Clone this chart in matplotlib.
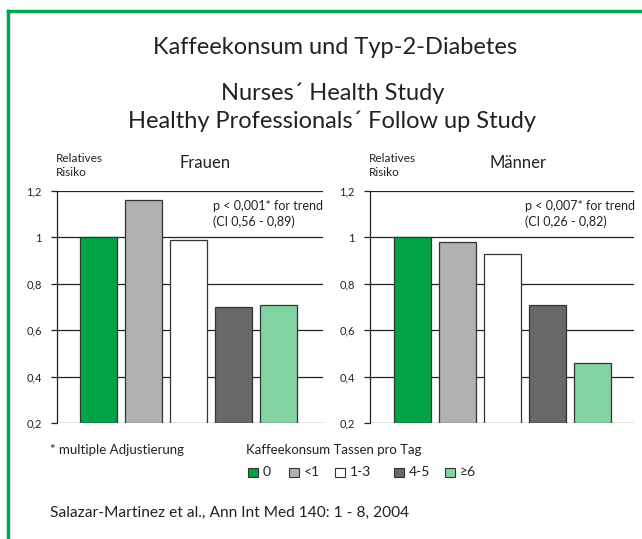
import matplotlib
matplotlib.use("Agg")
import matplotlib.pyplot as plt
from matplotlib.lines import Line2D
from matplotlib.patches import Rectangle

plt.rcParams['font.family'] = ['Lato', 'DejaVu Sans']

categories = ["0", "<1", "1-3", "4-5", "≥6"]
frauen = [1.00, 1.16, 0.99, 0.70, 0.71]
maenner = [1.00, 0.98, 0.93, 0.71, 0.46]
colors = ["#00A346", "#B0B2B0", "#FFFFFF", "#686868", "#82D4A2"]
yticks = [0.2, 0.4, 0.6, 0.8, 1.0, 1.2]
ytick_labels = ["0,2", "0,4", "0,6", "0,8", "1", "1,2"]

W, H = 642, 539
fig = plt.figure(figsize=(W / 100, H / 100), dpi=100)
fig.patch.set_facecolor("white")

def fx(px):
    return px / W

def fy(py):
    return 1 - py / H

TXT = "#222222"

# green frame (left and top only visible)
green = "#00A64F"
fig.add_artist(Line2D([fx(8), fx(8)], [fy(11), fy(545)], color=green, lw=2.5, transform=fig.transFigure))
fig.add_artist(Line2D([fx(8), fx(650)], [fy(11), fy(11)], color=green, lw=2.5, transform=fig.transFigure))

fig.text(fx(335), fy(47), "Kaffeekonsum und Typ-2-Diabetes", ha="center", va="center", fontsize=17, color=TXT)
fig.text(fx(333), fy(93), "Nurses´ Health Study", ha="center", va="center", fontsize=17, color=TXT)
fig.text(fx(332), fy(121), "Healthy Professionals´ Follow up Study", ha="center", va="center", fontsize=17, color=TXT)

def panel(left_px, right_px, xlo, xhi, vals, title, name, ptxt, citxt, ptx):
    ax = fig.add_axes([fx(left_px), fy(423), (right_px - left_px) / W, (423 - 191) / H])
    x = list(range(len(vals)))
    ax.bar(x, [v - 0.2 for v in vals], bottom=0.2, width=0.82, color=colors,
           edgecolor="#333333", linewidth=0.9, zorder=3)
    ax.set_ylim(0.2, 1.2)
    ax.set_xlim(xlo, xhi)
    ax.set_yticks(yticks)
    ax.set_yticklabels(ytick_labels, fontsize=8, color=TXT)
    ax.yaxis.grid(True, color=TXT, linewidth=0.9, zorder=0)
    ax.set_axisbelow(True)
    for s in ["top", "right", "bottom"]:
        ax.spines[s].set_visible(False)
    ax.spines["left"].set_color(TXT)
    ax.spines["left"].set_linewidth(0.9)
    ax.tick_params(axis="y", length=4, width=0.9, color=TXT, pad=7)
    ax.set_xticks([])
    fig.text(fx(left_px - 1), fy(158), "Relatives", ha="left", va="center", fontsize=8.5, color=TXT)
    fig.text(fx(left_px - 1), fy(172), "Risiko", ha="left", va="center", fontsize=8.5, color=TXT)
    fig.text(fx(name), fy(163), title, ha="center", va="center", fontsize=12, color=TXT)
    fig.text(fx(ptx), fy(206), ptxt, ha="left", va="center", fontsize=9, color=TXT)
    fig.text(fx(ptx), fy(222), citxt, ha="left", va="center", fontsize=9, color=TXT)
    return ax

panel(57, 323, -0.922, 4.99, frauen, "Frauen", 205, "p < 0,001* for trend", "(CI 0,56 - 0,89)", 213)
panel(370, 634, -0.944, 4.92, maenner, "Männer", 518, "p < 0,007* for trend", "(CI 0,26 - 0,82)", 525)

fig.text(fx(50), fy(450), "* multiple Adjustierung", ha="left", va="center", fontsize=9.5, color=TXT)
fig.text(fx(246), fy(450), "Kaffeekonsum Tassen pro Tag", ha="left", va="center", fontsize=9.5, color=TXT)

leg_x = [248, 289, 335, 394, 445]
sq = 9.5
for xp, c, lab in zip(leg_x, colors, categories):
    fig.add_artist(Rectangle((fx(xp), fy(477)), sq / W, sq / H, transform=fig.transFigure,
                             facecolor=c, edgecolor="#333333", linewidth=0.8))
    fig.text(fx(xp + sq + 5), fy(472), lab, ha="left", va="center", fontsize=10, color=TXT)

fig.text(fx(50), fy(513), "Salazar-Martinez et al., Ann Int Med 140: 1 - 8, 2004", ha="left", va="center",
         fontsize=11.2, color=TXT)

fig.savefig("out.png", dpi=100)
